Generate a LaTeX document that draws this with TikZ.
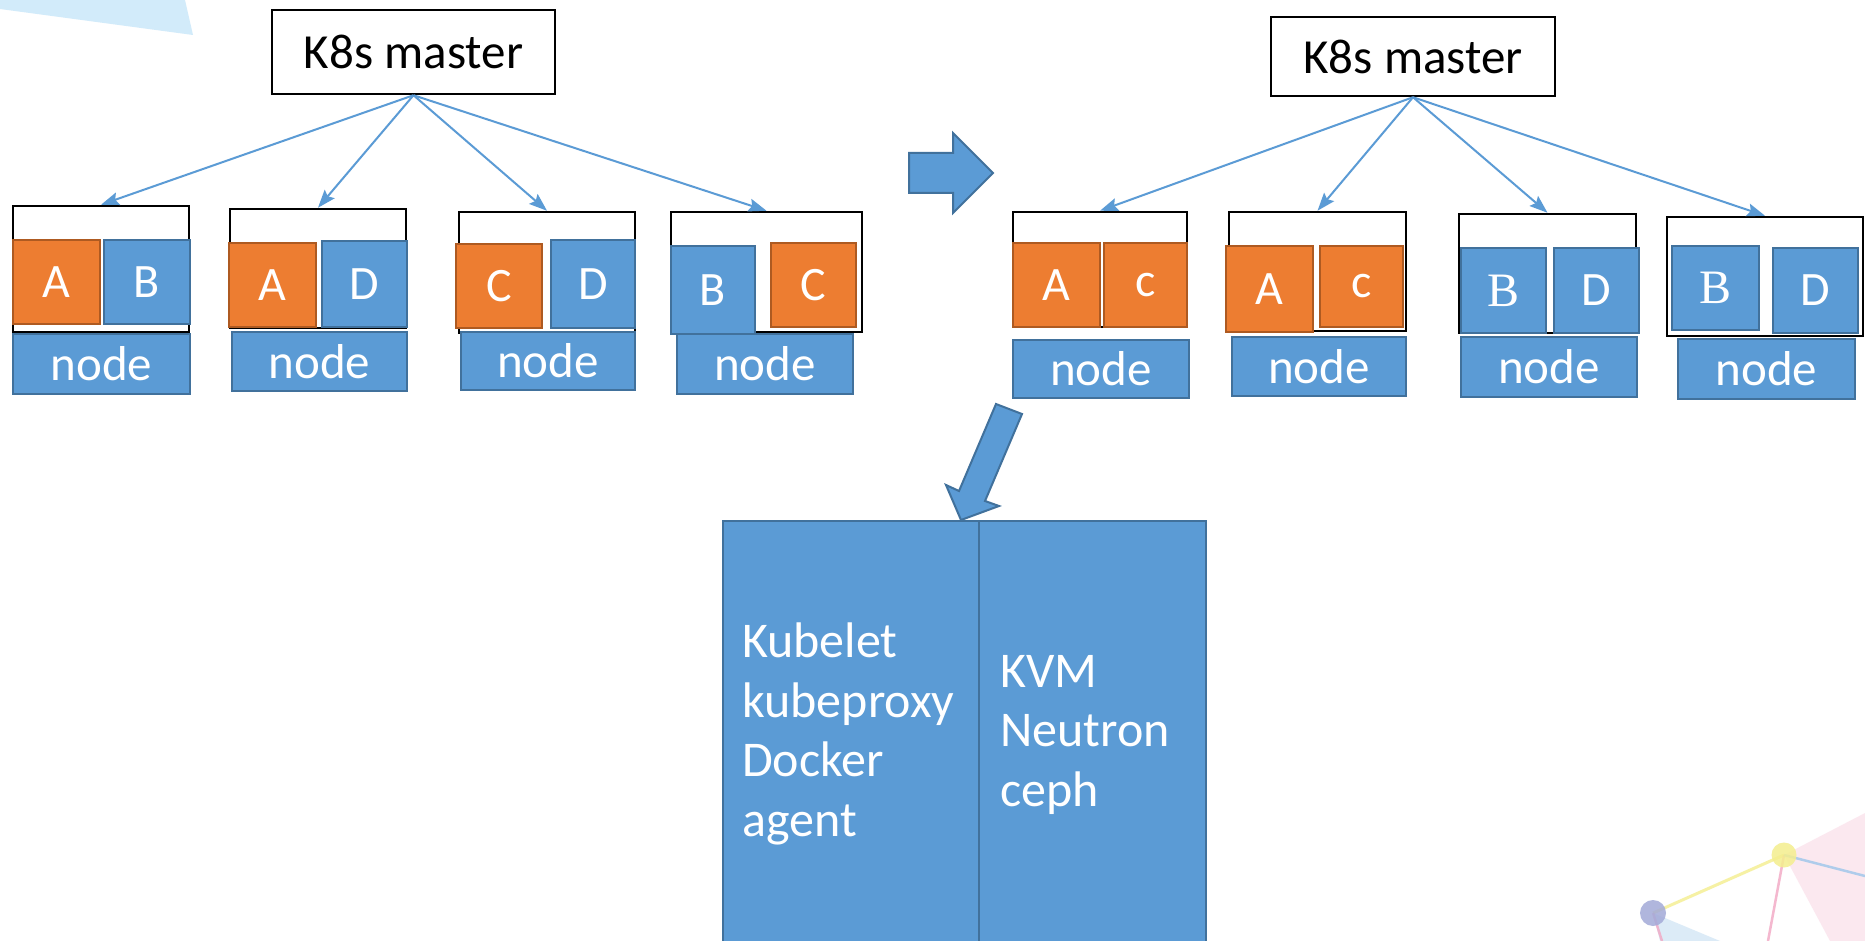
\documentclass[tikz,border=0pt]{standalone}
\usepackage{fontspec}
\setmainfont{Carlito}
\newfontfamily\serifB{Liberation Serif}
\usetikzlibrary{arrows.meta}
\definecolor{pblue}{HTML}{5B9BD5}
\definecolor{pblueB}{HTML}{41719C}
\definecolor{porange}{HTML}{ED7D31}
\definecolor{porangeB}{HTML}{AE5A21}
\definecolor{bgtri}{HTML}{D2EBFA}
\definecolor{decpink}{HTML}{F2A7C3}
\definecolor{decyellow}{HTML}{F4EE8E}
\definecolor{decpurple}{HTML}{A3AAD8}
\definecolor{decblue}{HTML}{9CC6EA}
\begin{document}
\begin{tikzpicture}[x=1pt,y=-1pt,
  master/.style={draw=black, line width=2.5pt, fill=white, inner sep=0pt, font=\fontsize{49}{55}\selectfont},
  holder/.style={draw=black, line width=2.5pt, fill=white, inner sep=0pt},
  opod/.style={draw=porangeB, line width=2pt, fill=porange, text=white, inner sep=0pt, font=\fontsize{48}{54}\selectfont},
  bpod/.style={draw=pblueB, line width=2pt, fill=pblue, text=white, inner sep=0pt, font=\fontsize{48}{54}\selectfont},
  nodebar/.style={draw=pblueB, line width=2pt, fill=pblue, text=white, inner sep=0pt, font=\fontsize{49}{55}\selectfont},
  bigbox/.style={draw=pblueB, line width=2pt, fill=pblue, inner sep=0pt},
  bigtext/.style={text=white, align=left, inner sep=0pt, font=\fontsize{50}{59.5}\selectfont},
  conn/.style={draw=pblue, line width=2pt, -{Stealth[length=18pt,width=13pt,inset=3pt]}},
  blockarrow/.style={draw=pblueB, line width=2pt, fill=pblue, line join=miter}
]
\useasboundingbox (0,0) rectangle (1865,941);
\fill[white] (0,0) rectangle (1865,941);
% background decoration
\fill[bgtri] (0,0) -- (185,0) -- (193,35) -- (0,9) -- cycle;
\fill[decpink, opacity=0.25] (1784,855) -- (1865,813) -- (1865,941) -- (1830,941) -- cycle;
\fill[decblue, opacity=0.35] (1653,913) -- (1720,941) -- (1660,941) -- cycle;
\draw[decyellow, line width=3pt, opacity=0.8] (1653,913) -- (1784,855);
\draw[decpink, line width=2.5pt, opacity=0.8] (1784,855) -- (1768,941);
\draw[decpink, line width=2.5pt, opacity=0.8] (1653,913) -- (1662,941);
\draw[decblue, line width=2.5pt, opacity=0.8] (1784,855) -- (1865,876);
\fill[decyellow, opacity=0.85] (1784,855) circle (12.5);
\fill[decpurple, opacity=0.85] (1653,913) circle (13);

% ---------- left cluster ----------
\node[master, minimum width=283pt, minimum height=84pt] (mL) at (413.5,52) {K8s master};

\node[holder, minimum width=176pt, minimum height=126pt] (c1) at (101,269) {};
\node[holder, minimum width=176pt, minimum height=119pt] (c2) at (318,268.5) {};
\node[holder, minimum width=176pt, minimum height=121pt] (c3) at (547,272.5) {};
\node[holder, minimum width=191pt, minimum height=120pt] (c4) at (766.5,272) {};

\node[opod, minimum width=87pt, minimum height=84pt] (p1a) at (56.5,282) {A};
\node[bpod, minimum width=86pt, minimum height=84pt] (p1b) at (147,282) {B};
\node[opod, minimum width=87pt, minimum height=84pt] (p2a) at (272.5,285) {A};
\node[bpod, minimum width=85pt, minimum height=86pt] (p2b) at (364.5,284) {D};
\node[opod, minimum width=86pt, minimum height=84pt] (p3a) at (499,286) {C};
\node[bpod, minimum width=84pt, minimum height=88pt] (p3b) at (593,284) {D};
\node[bpod, minimum width=84pt, minimum height=88pt] (p4a) at (713,290) {B};
\node[opod, minimum width=85pt, minimum height=84pt] (p4b) at (813.5,285) {C};

\node[nodebar, minimum width=177pt, minimum height=60pt] (n1) at (101.5,364) {node};
\node[nodebar, minimum width=175pt, minimum height=59pt] (n2) at (319.5,361.5) {node};
\node[nodebar, minimum width=174pt, minimum height=58pt] (n3) at (548,361) {node};
\node[nodebar, minimum width=176pt, minimum height=60pt] (n4) at (765,364) {node};

\draw[conn] (mL.south) -- (c1.north);
\draw[conn] (mL.south) -- (c2.north);
\draw[conn] (mL.south) -- (c3.north);
\draw[conn] (mL.south) -- (c4.north);

% ---------- transition arrow ----------
\draw[blockarrow] (909,153) -- (953,153) -- (953,133) -- (993,173) -- (953,213) -- (953,193) -- (909,193) -- cycle;

% ---------- right cluster ----------
\node[master, minimum width=284pt, minimum height=79pt] (mR) at (1413,56.5) {K8s master};

\node[holder, minimum width=174pt, minimum height=115pt] (c5) at (1100,269.5) {};
\node[holder, minimum width=177pt, minimum height=119pt] (c6) at (1317.5,271.5) {};
\node[holder, minimum width=177pt, minimum height=119pt] (c7) at (1547.5,273.5) {};
\node[holder, minimum width=196pt, minimum height=119pt] (c8) at (1765,276.5) {};

\node[opod, minimum width=87pt, minimum height=84pt] (p5a) at (1056.5,285) {A};
\node[opod, minimum width=83pt, minimum height=84pt] (p5b) at (1145.5,285) {c};
\node[opod, minimum width=87pt, minimum height=86pt] (p6a) at (1269.5,289) {A};
\node[opod, minimum width=83pt, minimum height=81pt] (p6b) at (1361.5,286.5) {c};
\node[bpod, minimum width=85pt, minimum height=85pt] (p7a) at (1503.5,290.5) {\serifB B};
\node[bpod, minimum width=85pt, minimum height=85pt] (p7b) at (1596.5,290.5) {D};
\node[bpod, minimum width=87pt, minimum height=84pt] (p8a) at (1715.5,288) {\serifB B};
\node[bpod, minimum width=85pt, minimum height=85pt] (p8b) at (1815.5,290.5) {D};

\node[nodebar, minimum width=176pt, minimum height=58pt] (n5) at (1101,369) {node};
\node[nodebar, minimum width=174pt, minimum height=59pt] (n6) at (1319,366.5) {node};
\node[nodebar, minimum width=176pt, minimum height=60pt] (n7) at (1549,367) {node};
\node[nodebar, minimum width=177pt, minimum height=60pt] (n8) at (1766.5,369) {node};

\draw[conn] (mR.south) -- (c5.north);
\draw[conn] (mR.south) -- (c6.north);
\draw[conn] (mR.south) -- (c7.north);
\draw[conn] (mR.south) -- (c8.north);

% ---------- zoom-in arrow ----------
\draw[blockarrow] (996,404) -- (1022,414) -- (985,501) -- (999,506) -- (961,520) -- (946,485) -- (959,491) -- cycle;

% ---------- detail box ----------
\node[bigbox, minimum width=256pt, minimum height=424pt] (dl) at (851,733) {};
\node[bigbox, minimum width=227pt, minimum height=424pt] (dr) at (1092.5,733) {};
\node[bigtext, anchor=base west] (tl) at (742,836) {Kubelet\\kubeproxy\\Docker\\agent};
\node[bigtext, anchor=base west] (tr) at (1000,806) {KVM\\Neutron\\ceph};
\end{tikzpicture}
\end{document}
